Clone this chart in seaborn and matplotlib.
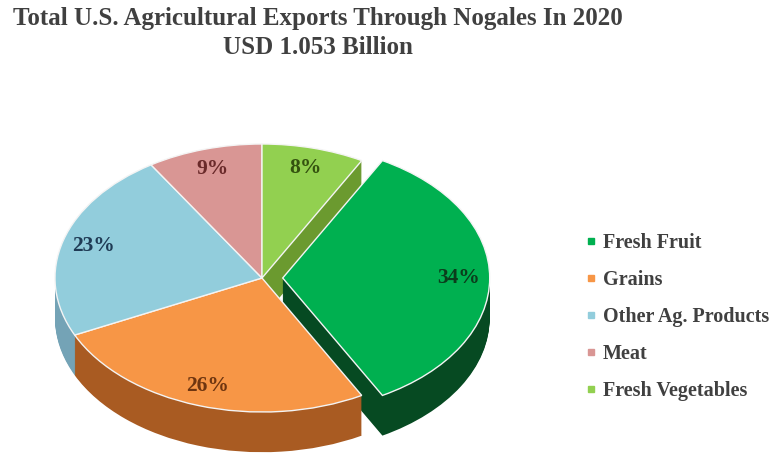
import matplotlib
matplotlib.use("Agg")
import matplotlib.pyplot as plt
from matplotlib.lines import Line2D
import seaborn as sns

sns.set_theme(style="white")
plt.rcParams["font.family"] = ["Liberation Serif", "DejaVu Serif"]

categories = ["Fresh Fruit", "Grains", "Other Ag. Products", "Meat", "Fresh Vegetables"]
values = [34, 26, 23, 9, 8]
top_colors = ["#00B050", "#F79646", "#92CDDC", "#D99694", "#92D050"]
side_colors = ["#064a22", "#a95b22", "#74a3b6", "#a86a68", "#6b9a2f"]
label_colors = ["#0b3d1c", "#6e3510", "#1f3b55", "#6a2a2a", "#34520f"]
explode = [0.1, 0, 0, 0, 0]
title_lines = ["Total U.S. Agricultural Exports Through Nogales In 2020", "USD 1.053 Billion"]

W, H = 779, 462
fig = plt.figure(figsize=(W / 100, H / 100), dpi=100)

# pie geometry in pixels
cx, cy = 262, 278
rx, ry = 207, 134
xl = (-1.25, 1.25)
yl = (-1.4, 1.15)
ax_w = (xl[1] - xl[0]) * rx
ax_h = (yl[1] - yl[0]) * ry
left = cx + xl[0] * rx
top = cy - yl[1] * ry
ax = fig.add_axes([left / W, 1 - (top + ax_h) / H, ax_w / W, ax_h / H])

startangle = 61.2
depth = 0.30
n_layers = 40
for i in range(n_layers):
    off = depth * (1 - i / n_layers)
    ax.pie(values, colors=side_colors, explode=explode, startangle=startangle,
           counterclock=False, center=(0, -off),
           wedgeprops=dict(edgecolor="none", linewidth=0))

wedges, texts, autotexts = ax.pie(
    values, colors=top_colors, explode=explode, startangle=startangle,
    counterclock=False, center=(0, 0), autopct="%1.0f%%", pctdistance=0.85,
    wedgeprops=dict(edgecolor="#f4f4f4", linewidth=1.0),
    textprops=dict(fontsize=15.5, fontweight="bold"))
for t, c in zip(autotexts, label_colors):
    t.set_color(c)

ax.set_aspect("auto")
ax.set_xlim(*xl)
ax.set_ylim(*yl)
ax.axis("off")

fig.text(318 / W, 1 - 19 / H, title_lines[0], ha="center", va="center", fontsize=18,
         fontweight="bold", color="#404040")
fig.text(318 / W, 1 - 47 / H, title_lines[1], ha="center", va="center", fontsize=18,
         fontweight="bold", color="#404040")

handles = [Line2D([0], [0], marker="s", linestyle="none", markersize=4.5,
                  markerfacecolor=c, markeredgecolor=c) for c in top_colors]
leg = fig.legend(handles, categories, loc="center left",
                 bbox_to_anchor=(577 / W, 1 - 317 / H), frameon=False,
                 fontsize=14.5, labelspacing=0.84, handlelength=0.6,
                 handletextpad=0.3, borderaxespad=0)
for t in leg.get_texts():
    t.set_color("#404040")
    t.set_fontweight("bold")

fig.savefig("out.png", dpi=100)
